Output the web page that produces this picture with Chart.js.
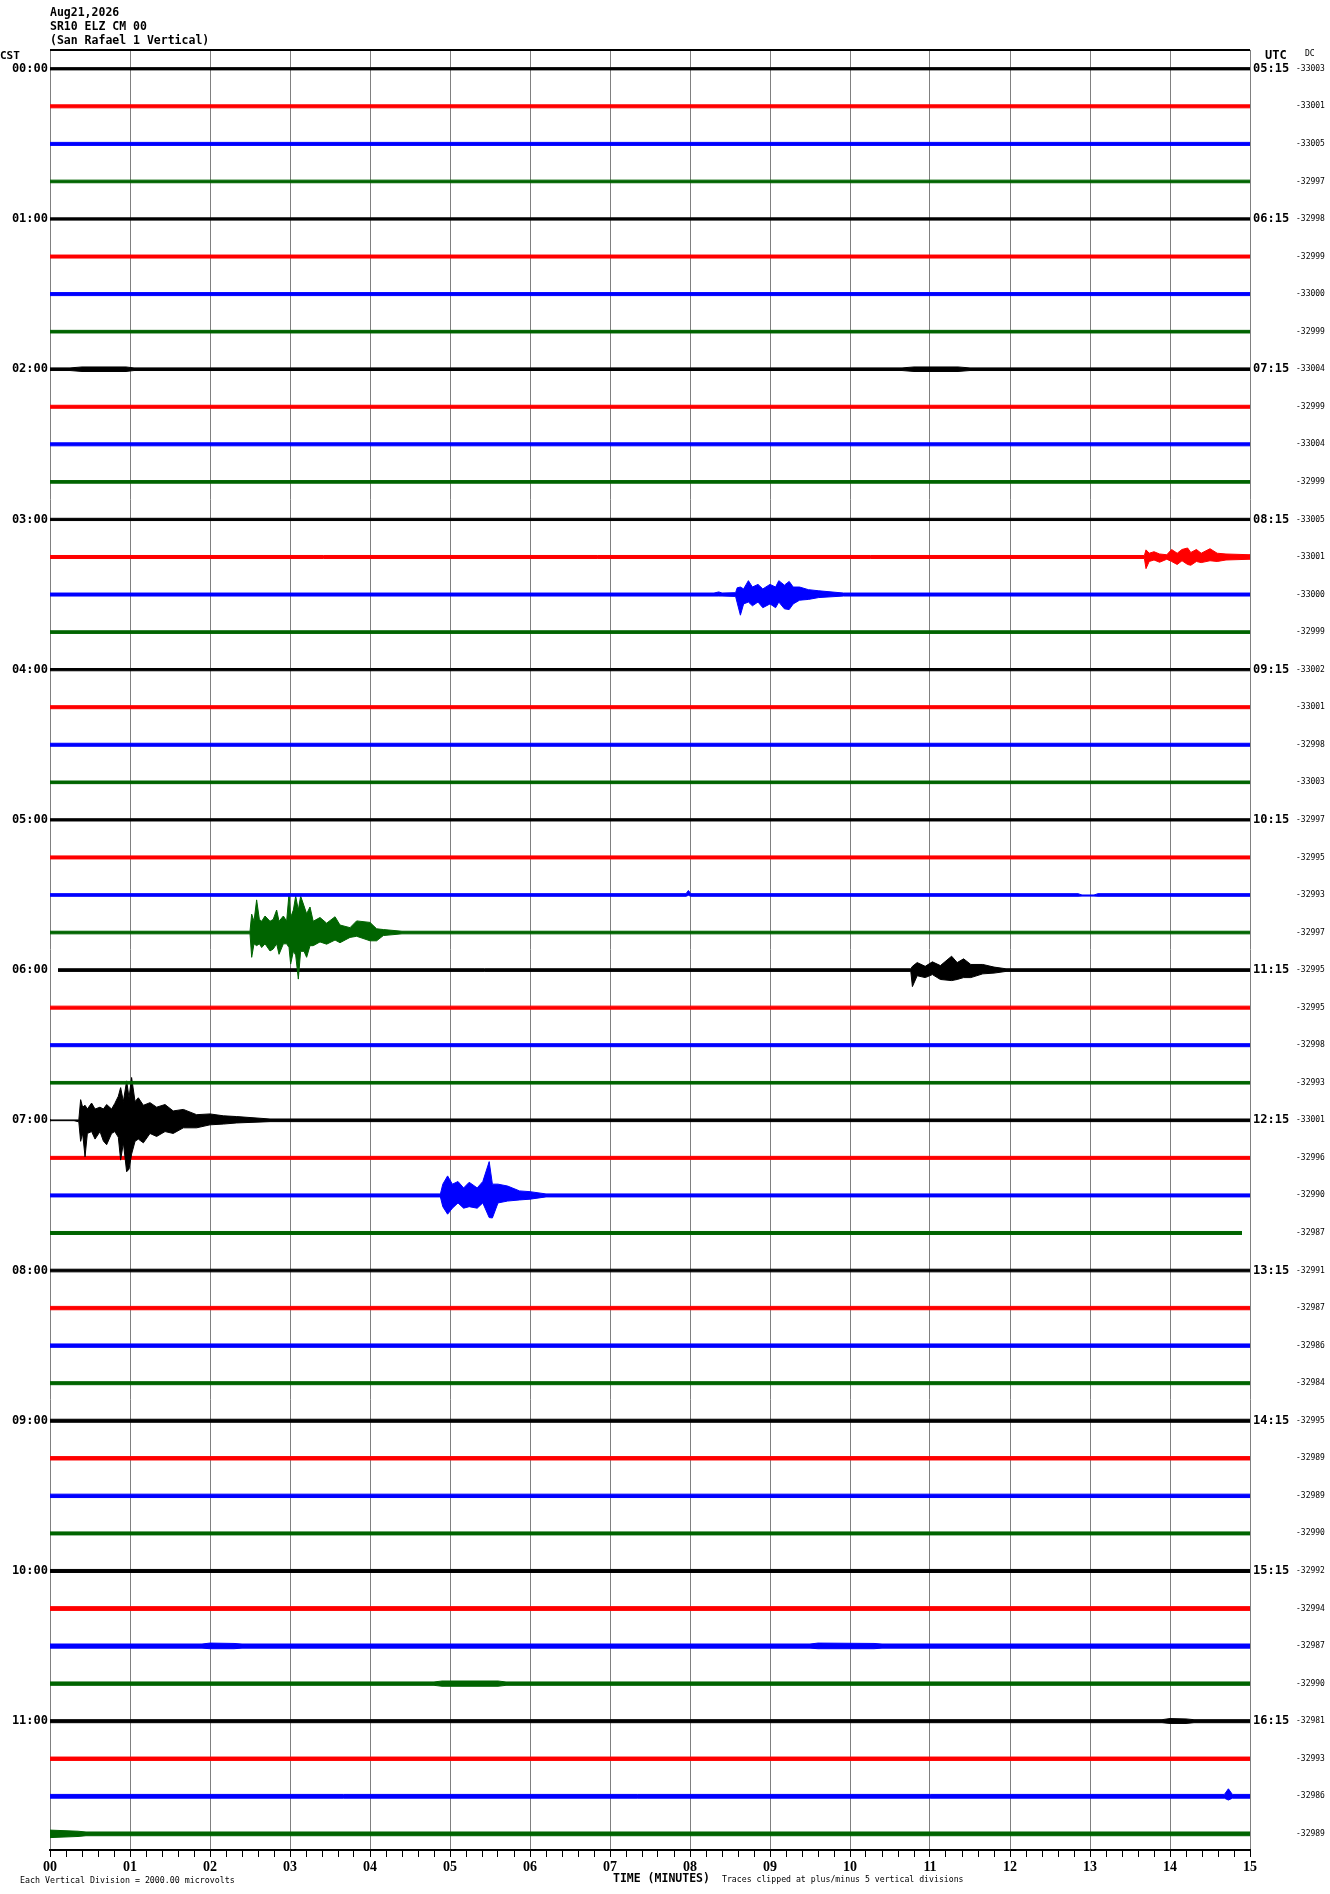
<!DOCTYPE html>
<html>
<head>
<meta charset="utf-8">
<title>SR10 ELZ CM 00 helicorder</title>
<script src="https://cdn.jsdelivr.net/npm/chart.js@4.4.0/dist/chart.umd.min.js"></script>
<style>
  body { margin: 0; background: #fff; }
  canvas { display: block; background: #fff; }
</style>
</head>
<body>
<canvas id="heliChart" width="1330" height="1894"></canvas>
<script>
// header / footer text
const headerLines = ['Aug21,2026', 'SR10 ELZ CM 00', '(San Rafael 1 Vertical)'];
const footerScale = 'Each Vertical Division = 2000.00 microvolts';
const footerTitle = 'TIME (MINUTES)';
const footerClip = 'Traces clipped at plus/minus 5 vertical divisions';

// one label every 4 traces (hours)
const hourLabels = ['00:00', '01:00', '02:00', '03:00', '04:00', '05:00', '06:00', '07:00', '08:00', '09:00', '10:00', '11:00'];
const utcLabels = ['05:15', '06:15', '07:15', '08:15', '09:15', '10:15', '11:15', '12:15', '13:15', '14:15', '15:15', '16:15'];
const minuteLabels = ['00', '01', '02', '03', '04', '05', '06', '07', '08', '09', '10', '11', '12', '13', '14', '15'];

// DC offset printed at the right of each trace
const dcOffsets = [
  -33003, -33001, -33005, -32997, -32998, -32999, -33000, -32999,
  -33004, -32999, -33004, -32999, -33005, -33001, -33000, -32999,
  -33002, -33001, -32998, -33003, -32997, -32995, -32993, -32997,
  -32995, -32995, -32998, -32993, -33001, -32996, -32990, -32987,
  -32991, -32987, -32986, -32984, -32995, -32989, -32989, -32990,
  -32992, -32994, -32987, -32990, -32981, -32993, -32986, -32989
];

const traceColors = ['#000000', '#ff0000', '#0000ff', '#006400'];

// background noise half-width of each trace, in vertical divisions
const noiseAmp = [
  0.030, 0.040, 0.040, 0.035, 0.030, 0.040, 0.040, 0.035,
  0.035, 0.040, 0.040, 0.035, 0.030, 0.040, 0.040, 0.035,
  0.030, 0.040, 0.040, 0.035, 0.030, 0.040, 0.035, 0.035,
  0.035, 0.040, 0.040, 0.035, 0.035, 0.040, 0.040, 0.040,
  0.035, 0.045, 0.045, 0.040, 0.040, 0.045, 0.045, 0.040,
  0.040, 0.050, 0.055, 0.045, 0.040, 0.045, 0.050, 0.050
];

// traces that do not cover the full 15 minutes
const shortRows = [24, 31];
const shortStart = [0.1, 0];
const shortEnd = [15, 14.9];

// envelopes: [minute, up, down]; null = trace noise level
const eventRows = [8, 8, 13, 14, 22, 22, 23, 24, 28, 30, 42, 42, 43, 44, 46, 47];
const eventEnvelopes = [
  [[0.25, null, null], [0.4, 0.06, 0.06], [0.95, 0.06, 0.06], [1.05, null, null]],
  [[10.65, null, null], [10.8, 0.06, 0.06], [11.35, 0.06, 0.06], [11.5, null, null]],
  [[13.68, null, null], [13.7, 0.19, 0.31], [13.74, 0.1, 0.12], [13.8, 0.14, 0.08], [13.87, 0.08, 0.14],
   [13.96, 0.06, 0.06], [14.02, 0.2, 0.12], [14.09, 0.1, 0.2], [14.15, 0.2, 0.1], [14.22, 0.24, 0.2],
   [14.26, 0.12, 0.22], [14.33, 0.2, 0.12], [14.39, 0.1, 0.15], [14.5, 0.22, 0.1], [14.59, 0.1, 0.12],
   [14.7, 0.08, 0.08], [15, 0.06, 0.06]],
  [[8.3, null, null], [8.36, 0.07, 0.04], [8.4, null, null], [8.57, 0.05, 0.05], [8.59, 0.18, 0.22],
   [8.63, 0.2, 0.55], [8.67, 0.15, 0.25], [8.73, 0.37, 0.2], [8.78, 0.2, 0.3], [8.85, 0.27, 0.2],
   [8.91, 0.15, 0.35], [9.0, 0.27, 0.25], [9.07, 0.2, 0.35], [9.11, 0.37, 0.2], [9.18, 0.25, 0.38],
   [9.24, 0.35, 0.4], [9.29, 0.2, 0.25], [9.37, 0.2, 0.15], [9.48, 0.13, 0.13], [9.61, 0.1, 0.08],
   [9.92, null, null]],
  [[7.95, null, null], [7.98, 0.12, 0.01], [8.01, null, null]],
  [[12.85, null, null], [12.9, 0.0, 0.03], [13.05, 0.0, 0.03], [13.1, null, null]],
  [[2.5, null, null], [2.521, 0.49, 0.66], [2.55, 0.3, 0.3], [2.583, 0.87, 0.35], [2.617, 0.35, 0.3],
   [2.646, 0.3, 0.4], [2.688, 0.44, 0.3], [2.75, 0.3, 0.49], [2.79, 0.35, 0.44], [2.833, 0.6, 0.3],
   [2.863, 0.3, 0.58], [2.917, 0.44, 0.3], [2.958, 0.3, 0.3], [2.988, 1.04, 0.4], [3.008, 0.4, 0.84],
   [3.042, 0.6, 0.5], [3.071, 0.97, 0.6], [3.104, 0.6, 1.24], [3.133, 0.97, 0.5], [3.175, 0.71, 0.5],
   [3.208, 0.5, 0.66], [3.25, 0.68, 0.35], [3.29, 0.3, 0.35], [3.375, 0.4, 0.25], [3.458, 0.25, 0.31],
   [3.563, 0.42, 0.2], [3.625, 0.2, 0.27], [3.75, 0.13, 0.13], [3.833, 0.31, 0.1], [4.0, 0.27, 0.22],
   [4.083, 0.1, 0.22], [4.167, 0.08, 0.08], [4.4, null, null]],
  [[10.76, null, null], [10.78, 0.1, 0.44], [10.84, 0.2, 0.15], [10.94, 0.1, 0.2], [11.03, 0.22, 0.12],
   [11.13, 0.12, 0.25], [11.27, 0.37, 0.28], [11.34, 0.2, 0.25], [11.42, 0.3, 0.2], [11.51, 0.15, 0.2],
   [11.66, 0.15, 0.1], [11.8, 0.08, 0.08], [11.95, null, null]],
  [[0, 0.01, 0.01], [0.3, 0.01, 0.01], [0.36, 0.01, 0.04], [0.383, 0.55, 0.56], [0.408, 0.35, 0.35],
   [0.438, 0.4, 0.97], [0.467, 0.3, 0.35], [0.52, 0.46, 0.3], [0.563, 0.3, 0.5], [0.625, 0.35, 0.3],
   [0.667, 0.3, 0.55], [0.708, 0.42, 0.65], [0.77, 0.3, 0.35], [0.81, 0.45, 0.3], [0.854, 0.64, 0.45],
   [0.883, 0.87, 1.06], [0.917, 0.5, 0.6], [0.958, 1.05, 1.37], [0.988, 0.6, 1.3], [1.02, 1.14, 0.9],
   [1.063, 0.5, 0.56], [1.104, 0.6, 0.5], [1.167, 0.4, 0.6], [1.25, 0.47, 0.35], [1.333, 0.35, 0.43],
   [1.438, 0.42, 0.3], [1.54, 0.25, 0.35], [1.667, 0.29, 0.2], [1.833, 0.15, 0.2], [2.0, 0.17, 0.12],
   [2.167, 0.12, 0.1], [2.333, 0.1, 0.07], [2.75, null, null]],
  [[4.88, null, null], [4.91, 0.3, 0.3], [4.97, 0.52, 0.5], [5.03, 0.3, 0.34], [5.1, 0.37, 0.2],
   [5.17, 0.2, 0.34], [5.24, 0.35, 0.3], [5.34, 0.2, 0.34], [5.41, 0.37, 0.2], [5.49, 0.9, 0.59],
   [5.53, 0.3, 0.6], [5.6, 0.3, 0.2], [5.72, 0.25, 0.15], [5.87, 0.12, 0.12], [6.0, 0.1, 0.1],
   [6.2, null, null]],
  [[1.9, null, null], [2.0, 0.08, 0.07], [2.3, 0.07, 0.07], [2.4, null, null]],
  [[9.5, null, null], [9.6, 0.08, 0.07], [10.3, 0.07, 0.07], [10.4, null, null]],
  [[4.8, null, null], [4.9, 0.07, 0.07], [5.6, 0.07, 0.07], [5.7, null, null]],
  [[13.9, null, null], [14.0, 0.07, 0.06], [14.2, 0.06, 0.06], [14.3, null, null]],
  [[14.68, null, null], [14.73, 0.2, 0.1], [14.78, null, null]],
  [[0, 0.1, 0.1], [0.35, 0.07, 0.07], [0.45, null, null]]
];

function isWhole(v) {
  return Math.abs(v - Math.round(v)) < 1e-6;
}

function tracePoints(row) {
  const n = noiseAmp[row];
  let start = 0, end = 15;
  const k = shortRows.indexOf(row);
  if (k >= 0) { start = shortStart[k]; end = shortEnd[k]; }
  let pts = [[start, null, null]];
  eventRows.forEach((r, i) => {
    if (r === row) pts = pts.concat(eventEnvelopes[i]);
  });
  pts.push([end, null, null]);
  pts.sort((a, b) => a[0] - b[0]);
  return pts.map(p => [p[0], p[1] == null ? n : p[1], p[2] == null ? n : p[2]]);
}

function buildDatasets() {
  const datasets = [];
  for (let r = 0; r < dcOffsets.length; r++) {
    const pts = tracePoints(r);
    const color = traceColors[r % 4];
    datasets.push({
      data: pts.map(p => ({ x: p[0], y: r - p[1] })),
      borderColor: color, backgroundColor: color, fill: '+1',
      borderWidth: 1, pointRadius: 0, tension: 0
    });
    datasets.push({
      data: pts.map(p => ({ x: p[0], y: r + p[2] })),
      borderColor: color, fill: false,
      borderWidth: 1, pointRadius: 0, tension: 0
    });
  }
  return datasets;
}

function rowAxis(position, weight, width, padding, font, label) {
  return {
    type: 'linear', position: position, weight: weight,
    min: -0.5, max: 47.43, reverse: true,
    afterBuildTicks: s => { s.ticks = dcOffsets.map((d, i) => ({ value: i })); },
    afterFit: s => { s.width = width; },
    grid: { display: false, drawTicks: false },
    border: { display: false },
    ticks: { autoSkip: false, padding: padding, color: '#000', font: font, callback: label }
  };
}

const heliText = {
  id: 'heliText',
  afterDraw(chart) {
    const ctx = chart.ctx;
    const a = chart.chartArea;
    ctx.save();
    ctx.strokeStyle = '#000';
    ctx.lineWidth = 2;
    ctx.beginPath();
    ctx.moveTo(a.left, a.top);
    ctx.lineTo(a.right, a.top);
    ctx.stroke();

    ctx.fillStyle = '#000';
    ctx.textBaseline = 'middle';
    ctx.textAlign = 'left';
    ctx.font = 'bold 11.5px "DejaVu Sans Mono"';
    headerLines.forEach((t, i) => ctx.fillText(t, 50, 13 + i * 14));
    ctx.font = 'bold 11px "DejaVu Sans Mono"';
    ctx.fillText('CST', 0, 56);
    ctx.font = 'bold 12px "DejaVu Sans Mono"';
    ctx.fillText('UTC', 1265, 56);
    ctx.font = '8px "DejaVu Sans Mono"';
    ctx.fillText('DC', 1305, 54);

    ctx.font = '8.3px "DejaVu Sans Mono"';
    ctx.fillText(footerScale, 20, 1881);
    ctx.font = '8.2px "DejaVu Sans Mono"';
    ctx.fillText(footerClip, 722, 1880);
    ctx.font = 'bold 11.5px "DejaVu Sans Mono"';
    ctx.fillText(footerTitle, 613, 1879);
    ctx.restore();
  }
};

const ctx = document.getElementById('heliChart').getContext('2d');
const chart = new Chart(ctx, {
  type: 'line',
  data: { datasets: buildDatasets() },
  options: {
    responsive: false,
    animation: false,
    layout: { padding: { top: 50, left: 0, right: 0, bottom: 0 } },
    plugins: { legend: { display: false }, tooltip: { enabled: false } },
    scales: {
      x: {
        type: 'linear', min: 0, max: 15,
        afterFit: s => { s.height = 44; },
        ticks: {
          stepSize: 0.2, autoSkip: false, maxRotation: 0, padding: 2, color: '#000',
          font: { family: 'Liberation Serif', size: 14, weight: 'bold' },
          callback: v => isWhole(v) ? minuteLabels[Math.round(v)] : ''
        },
        grid: {
          color: c => isWhole(c.tick.value) ? '#808080' : 'rgba(0,0,0,0)',
          tickColor: '#000', tickLength: 7, lineWidth: 1
        },
        border: { color: '#000', width: 2 }
      },
      y: rowAxis('left', 0, 50, 2, { family: 'DejaVu Sans Mono', size: 12, weight: 'bold' },
        v => v % 4 === 0 ? hourLabels[v / 4] : ''),
      utc: rowAxis('right', 0, 42, 3, { family: 'DejaVu Sans Mono', size: 12, weight: 'bold' },
        v => v % 4 === 0 ? utcLabels[v / 4] : ''),
      dc: rowAxis('right', 1, 38, 4, { family: 'DejaVu Sans Mono', size: 8 },
        v => String(dcOffsets[v]))
    }
  },
  plugins: [heliText]
});
</script>
</body>
</html>
